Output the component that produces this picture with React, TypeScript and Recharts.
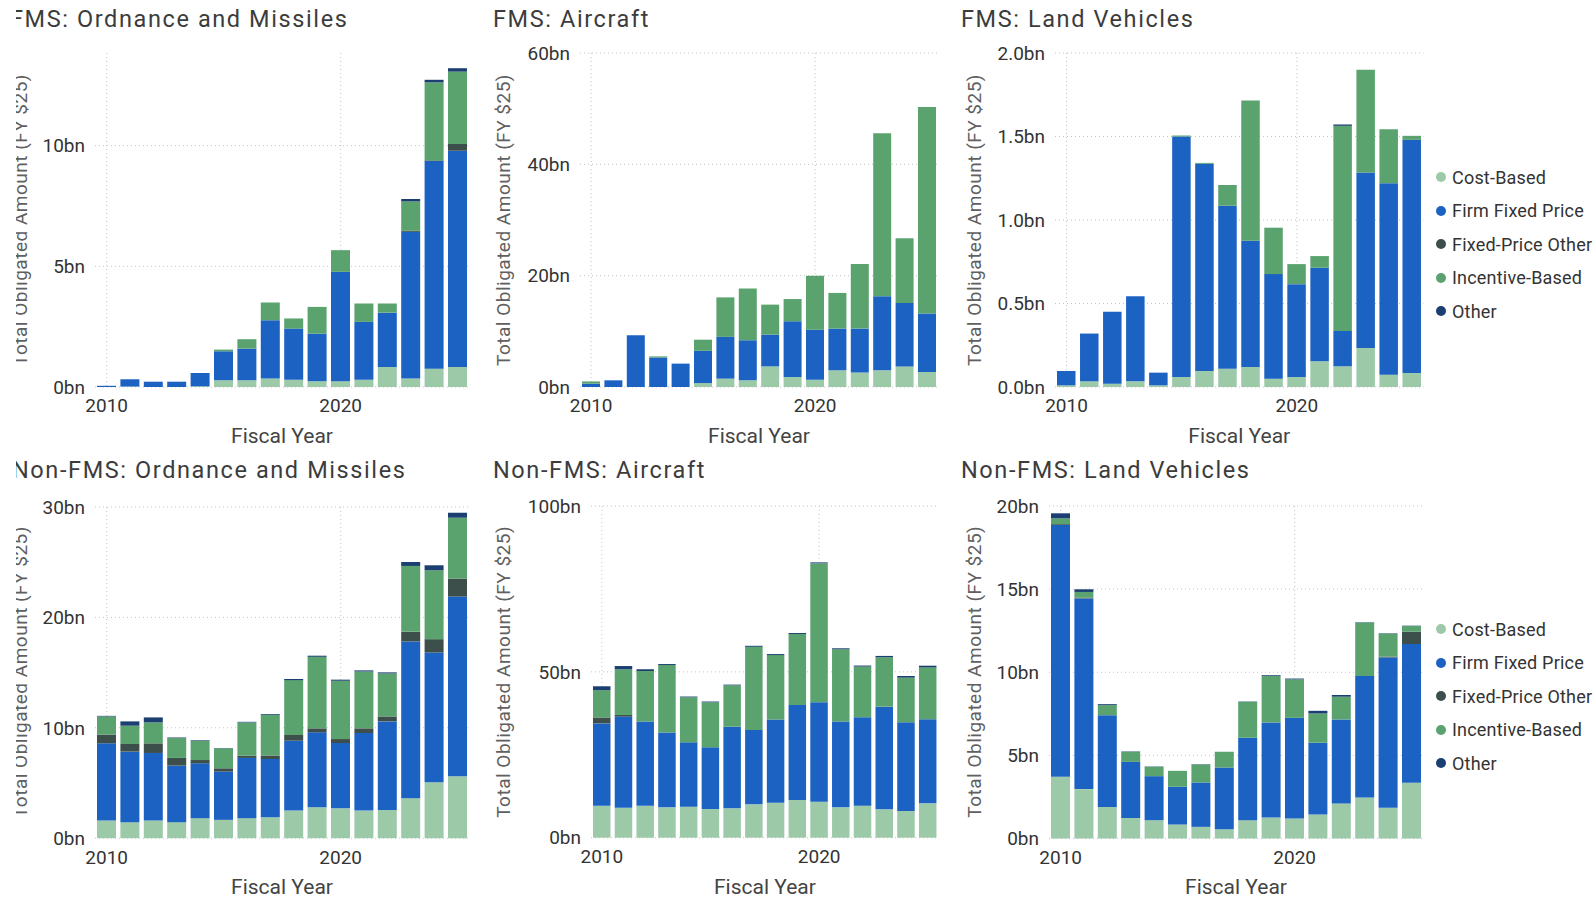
import React from "react";
import { BarChart, Bar, XAxis, YAxis, CartesianGrid } from "recharts";

const YEARS = [2010, 2011, 2012, 2013, 2014, 2015, 2016, 2017, 2018, 2019, 2020, 2021, 2022, 2023, 2024, 2025];
const X_TICKS = [2010, 2020];

const CATEGORY_KEYS = ["cost", "ffp", "fpo", "inc", "other"];
const CATEGORY_NAMES = ["Cost-Based", "Firm Fixed Price", "Fixed-Price Other", "Incentive-Based", "Other"];
const CATEGORY_COLORS = ["#9cc9a8", "#1c62c3", "#3d4f4a", "#5aa36f", "#1a3f70"];

// values in $bn, FY2010..FY2025
// FMS: Ordnance and Missiles
const fmsOrdCost = [0, 0.02, 0, 0, 0.03, 0.28, 0.28, 0.35, 0.3, 0.24, 0.24, 0.3, 0.83, 0.35, 0.76, 0.83];
const fmsOrdFfp = [0.05, 0.3, 0.22, 0.22, 0.55, 1.2, 1.31, 2.42, 2.12, 1.97, 4.53, 2.4, 2.25, 6.08, 8.6, 8.96];
const fmsOrdFpo = [0, 0, 0, 0, 0, 0, 0, 0, 0, 0, 0, 0, 0, 0.04, 0.03, 0.28];
const fmsOrdInc = [0, 0, 0, 0, 0, 0.07, 0.39, 0.73, 0.42, 1.11, 0.9, 0.76, 0.38, 1.22, 3.23, 3.0];
const fmsOrdOther = [0, 0, 0, 0, 0, 0, 0, 0, 0, 0, 0, 0, 0, 0.1, 0.11, 0.14];

// FMS: Aircraft
const fmsAirCost = [0, 0, 0, 0, 0, 0.7, 1.5, 1.2, 3.7, 1.8, 1.3, 3.0, 2.6, 3.0, 3.7, 2.7];
const fmsAirFfp = [0.6, 1.2, 9.3, 5.3, 4.2, 5.8, 7.5, 7.2, 5.7, 10.0, 9.0, 7.5, 7.9, 13.3, 11.4, 10.5];
const fmsAirFpo = [0, 0, 0, 0, 0, 0, 0, 0, 0, 0, 0, 0, 0, 0, 0, 0];
const fmsAirInc = [0.4, 0, 0, 0.2, 0, 2.0, 7.1, 9.3, 5.4, 4.0, 9.7, 6.4, 11.6, 29.3, 11.6, 37.1];
const fmsAirOther = [0, 0, 0, 0, 0, 0, 0, 0, 0, 0, 0, 0, 0, 0, 0, 0];

// FMS: Land Vehicles
const fmsLandCost = [0.01, 0.034, 0.02, 0.034, 0.01, 0.06, 0.096, 0.11, 0.12, 0.05, 0.06, 0.154, 0.124, 0.234, 0.074, 0.084];
const fmsLandFfp = [0.086, 0.286, 0.43, 0.51, 0.076, 1.44, 1.24, 0.976, 0.756, 0.626, 0.556, 0.56, 0.212, 1.05, 1.146, 1.396];
const fmsLandFpo = [0, 0, 0, 0, 0, 0, 0, 0, 0, 0, 0, 0, 0, 0, 0, 0];
const fmsLandInc = [0, 0, 0, 0, 0, 0.006, 0.006, 0.124, 0.84, 0.278, 0.12, 0.07, 1.228, 0.616, 0.324, 0.024];
const fmsLandOther = [0, 0, 0, 0, 0, 0, 0, 0, 0, 0, 0, 0, 0.008, 0, 0, 0];

// Non-FMS: Ordnance and Missiles
const nonOrdCost = [1.6, 1.45, 1.6, 1.45, 1.81, 1.66, 1.81, 1.9, 2.5, 2.8, 2.71, 2.5, 2.56, 3.62, 5.06, 5.61];
const nonOrdFfp = [7.0, 6.39, 6.12, 5.12, 4.97, 4.37, 5.46, 5.28, 6.33, 6.79, 5.91, 7.03, 8.02, 14.2, 11.76, 16.28];
const nonOrdFpo = [0.78, 0.69, 0.87, 0.7, 0.3, 0.3, 0.21, 0.3, 0.52, 0.36, 0.36, 0.42, 0.45, 0.87, 1.21, 1.63];
const nonOrdInc = [1.65, 1.66, 1.9, 1.8, 1.75, 1.81, 3.01, 3.71, 4.97, 6.48, 5.28, 5.15, 3.89, 5.97, 6.24, 5.51];
const nonOrdOther = [0.05, 0.39, 0.45, 0.05, 0.05, 0.03, 0.05, 0.05, 0.1, 0.1, 0.1, 0.1, 0.1, 0.36, 0.45, 0.45];

// Non-FMS: Aircraft
const nonAirCost = [9.65, 9.0, 9.65, 9.15, 9.35, 8.65, 8.85, 10.05, 10.55, 11.35, 10.85, 9.15, 9.65, 8.55, 8.05, 10.35];
const nonAirFfp = [24.8, 27.5, 25.35, 22.6, 19.4, 18.6, 24.6, 22.4, 25.1, 28.65, 29.95, 25.85, 26.65, 30.95, 26.75, 25.35];
const nonAirFpo = [1.8, 0.5, 0, 0, 0, 0, 0, 0, 0, 0, 0, 0, 0, 0, 0, 0];
const nonAirInc = [8.2, 13.75, 15.25, 20.3, 13.6, 13.6, 12.5, 25.1, 19.4, 21.4, 41.9, 21.8, 15.3, 14.9, 13.45, 15.65];
const nonAirOther = [1.2, 1.0, 0.5, 0.3, 0.2, 0.2, 0.2, 0.3, 0.3, 0.3, 0.3, 0.3, 0.3, 0.4, 0.5, 0.5];

// Non-FMS: Land Vehicles
const nonLandCost = [3.71, 2.97, 1.9, 1.24, 1.1, 0.84, 0.7, 0.56, 1.1, 1.26, 1.2, 1.44, 2.11, 2.47, 1.85, 3.35];
const nonLandFfp = [15.15, 11.47, 5.52, 3.37, 2.65, 2.27, 2.67, 3.71, 4.96, 5.72, 6.06, 4.32, 5.05, 7.3, 9.04, 8.35];
const nonLandFpo = [0.05, 0.05, 0, 0, 0, 0, 0, 0, 0, 0, 0, 0, 0, 0, 0.05, 0.74];
const nonLandInc = [0.35, 0.34, 0.6, 0.61, 0.56, 0.96, 1.08, 0.95, 2.16, 2.79, 2.31, 1.76, 1.37, 3.23, 1.39, 0.34];
const nonLandOther = [0.3, 0.16, 0.06, 0.02, 0.02, 0, 0.02, 0, 0.02, 0.05, 0.05, 0.16, 0.1, 0.02, 0.02, 0.02];

const FONT = "Roboto, 'Open Sans', sans-serif";
const TICK_STYLE = { fill: "#333333", fontSize: 19, fontFamily: FONT };

interface PlotBox {
  left: number;
  right: number;
  top: number;
  bottom: number;
}

interface PanelSpec {
  title: string;
  series: number[][];
  yMax: number;
  yTicks: number[];
  decimals: number;
  barSize: number;
  plot: PlotBox;
  titleX: number;
  titleY: number;
  yTitleX: number;
  clip: boolean;
}

const PANELS: PanelSpec[] = [
  {
    title: "FMS: Ordnance and Missiles",
    series: [fmsOrdCost, fmsOrdFfp, fmsOrdFpo, fmsOrdInc, fmsOrdOther],
    yMax: 13.84,
    yTicks: [0, 5, 10],
    decimals: 0,
    barSize: 19,
    plot: { left: 94.8, right: 469.2, top: 53, bottom: 387 },
    titleX: 10,
    titleY: 27,
    yTitleX: 27,
    clip: true,
  },
  {
    title: "FMS: Aircraft",
    series: [fmsAirCost, fmsAirFfp, fmsAirFpo, fmsAirInc, fmsAirOther],
    yMax: 60,
    yTicks: [0, 20, 40, 60],
    decimals: 0,
    barSize: 18,
    plot: { left: 579.8, right: 938.2, top: 53, bottom: 387 },
    titleX: 493,
    titleY: 27,
    yTitleX: 510,
    clip: false,
  },
  {
    title: "FMS: Land Vehicles",
    series: [fmsLandCost, fmsLandFfp, fmsLandFpo, fmsLandInc, fmsLandOther],
    yMax: 2,
    yTicks: [0, 0.5, 1, 1.5, 2],
    decimals: 1,
    barSize: 18.5,
    plot: { left: 1055, right: 1423.5, top: 53, bottom: 387 },
    titleX: 961,
    titleY: 27,
    yTitleX: 981,
    clip: false,
  },
  {
    title: "Non-FMS: Ordnance and Missiles",
    series: [nonOrdCost, nonOrdFfp, nonOrdFpo, nonOrdInc, nonOrdOther],
    yMax: 30,
    yTicks: [0, 10, 20, 30],
    decimals: 0,
    barSize: 19,
    plot: { left: 94.8, right: 469.2, top: 506.5, bottom: 837.7 },
    titleX: 12,
    titleY: 478,
    yTitleX: 27,
    clip: true,
  },
  {
    title: "Non-FMS: Aircraft",
    series: [nonAirCost, nonAirFfp, nonAirFpo, nonAirInc, nonAirOther],
    yMax: 100,
    yTicks: [0, 50, 100],
    decimals: 0,
    barSize: 17.5,
    plot: { left: 591.1, right: 938.8, top: 506, bottom: 837.7 },
    titleX: 493,
    titleY: 478,
    yTitleX: 510,
    clip: false,
  },
  {
    title: "Non-FMS: Land Vehicles",
    series: [nonLandCost, nonLandFfp, nonLandFpo, nonLandInc, nonLandOther],
    yMax: 20,
    yTicks: [0, 5, 10, 15, 20],
    decimals: 0,
    barSize: 19,
    plot: { left: 1048.8, right: 1423.2, top: 505.5, bottom: 838 },
    titleX: 961,
    titleY: 478,
    yTitleX: 981,
    clip: false,
  },
];

const LEGEND_TOPS = [177, 629];
const LEGEND_STEP = 33.5;

function buildRows(series: number[][]) {
  return YEARS.map((year, i) => {
    const row: Record<string, number> = { year };
    CATEGORY_KEYS.forEach((k, j) => {
      row[k] = series[j][i];
    });
    return row;
  });
}

const Y_W = 80;
const M_TOP = 12;
const M_RIGHT = 6;
const M_BOTTOM = 10;
const X_H = 30;

function Panel({ p }: { p: PanelSpec }) {
  const w = Y_W + (p.plot.right - p.plot.left) + M_RIGHT;
  const h = M_TOP + (p.plot.bottom - p.plot.top) + X_H + M_BOTTOM;
  return (
    <div style={{ position: "absolute", left: p.plot.left - Y_W, top: p.plot.top - M_TOP }}>
      <BarChart
        width={w}
        height={h}
        data={buildRows(p.series)}
        margin={{ top: M_TOP, right: M_RIGHT, bottom: M_BOTTOM, left: 0 }}
      >
        <CartesianGrid
          strokeDasharray="1 3"
          stroke="#c4c4c4"
          verticalValues={X_TICKS}
          horizontalValues={p.yTicks}
        />
        <XAxis
          type="number"
          dataKey="year"
          domain={[2009.5, 2025.5]}
          ticks={X_TICKS}
          interval={0}
          height={X_H}
          axisLine={false}
          tickLine={false}
          tickSize={0}
          tickMargin={12}
          tick={TICK_STYLE}
        />
        <YAxis
          type="number"
          domain={[0, p.yMax]}
          ticks={p.yTicks}
          interval={0}
          width={Y_W}
          axisLine={false}
          tickLine={false}
          tickSize={0}
          tickMargin={10}
          tick={TICK_STYLE}
          tickFormatter={(v: number) => `${v.toFixed(p.decimals)}bn`}
        />
        {CATEGORY_KEYS.map((k, j) => (
          <Bar
            key={k}
            dataKey={k}
            name={CATEGORY_NAMES[j]}
            stackId="a"
            fill={CATEGORY_COLORS[j]}
            barSize={p.barSize}
            isAnimationActive={false}
          />
        ))}
      </BarChart>
    </div>
  );
}

function LegendBlock({ top }: { top: number }) {
  return (
    <>
      {CATEGORY_NAMES.map((name, j) => (
        <div
          key={name}
          style={{
            position: "absolute",
            left: 1436,
            top: top + j * LEGEND_STEP - 12,
            height: 24,
            display: "flex",
            alignItems: "center",
            whiteSpace: "nowrap",
            fontFamily: FONT,
            fontSize: 18,
            letterSpacing: 0.2,
            color: "#333333",
          }}
        >
          <span
            style={{
              display: "inline-block",
              width: 10,
              height: 10,
              borderRadius: 5,
              background: CATEGORY_COLORS[j],
              marginRight: 6,
            }}
          />
          {name}
        </div>
      ))}
    </>
  );
}

export default function App() {
  return (
    <div
      style={{
        position: "absolute",
        left: 0,
        top: 0,
        width: 1595,
        height: 899,
        overflow: "hidden",
        background: "#ffffff",
        fontFamily: FONT,
      }}
    >
      {PANELS.map((p) => (
        <Panel key={p.title} p={p} />
      ))}
      {LEGEND_TOPS.map((t) => (
        <LegendBlock key={t} top={t} />
      ))}
      <svg
        width={1595}
        height={899}
        style={{ position: "absolute", left: 0, top: 0, pointerEvents: "none" }}
      >
        <defs>
          <clipPath id="leftClip">
            <rect x={16} y={0} width={1600} height={899} />
          </clipPath>
        </defs>
        {PANELS.map((p) => {
          const cy = (p.plot.top + p.plot.bottom) / 2;
          const cx = (p.plot.left + p.plot.right) / 2;
          const xTitleY = p.plot.bottom + 56;
          return (
            <g key={p.title} fontFamily={FONT}>
              <g clipPath={p.clip ? "url(#leftClip)" : undefined}>
                <text x={p.titleX} y={p.titleY} fontSize={23.5} letterSpacing={1.6} fill="#3c3c3c">
                  {p.title}
                </text>
                <text
                  x={p.yTitleX}
                  y={cy}
                  fontSize={19}
                  letterSpacing={0.5}
                  fill="#606060"
                  textAnchor="middle"
                  transform={`rotate(-90 ${p.yTitleX} ${cy})`}
                >
                  Total Obligated Amount (FY $25)
                </text>
              </g>
              <text x={cx} y={xTitleY} fontSize={21} fill="#444444" textAnchor="middle">
                Fiscal Year
              </text>
            </g>
          );
        })}
      </svg>
    </div>
  );
}
